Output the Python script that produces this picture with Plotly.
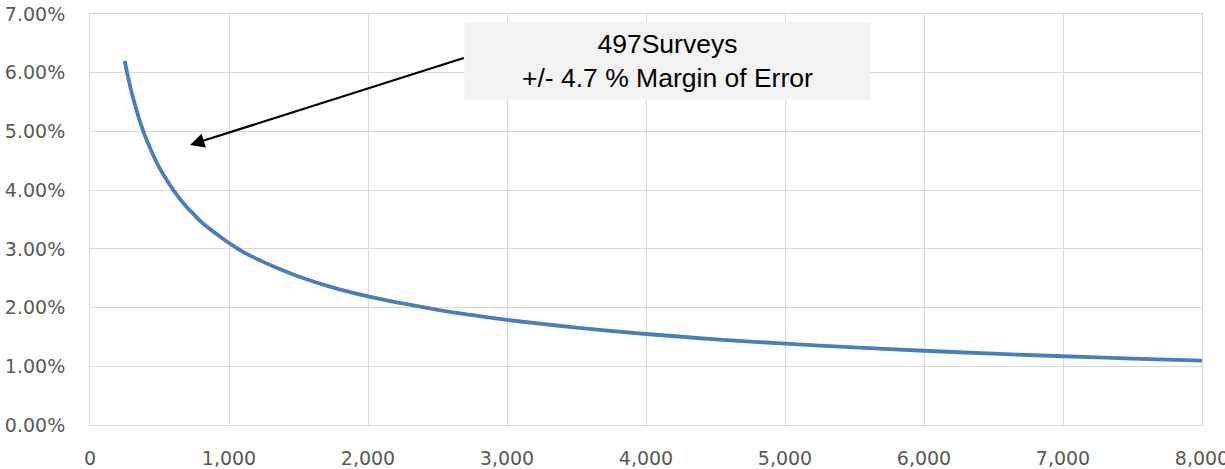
import plotly.graph_objects as go

# Sample size (number of surveys) and margin of error
sample_size = [250, 275, 300, 325, 350, 375, 400, 450, 500, 550, 600, 650, 700, 750, 800, 900,
               1000, 1100, 1200, 1350, 1500, 1750, 2000, 2250, 2500, 2750, 3000, 3500, 4000,
               4500, 5000, 5500, 6000, 6500, 7000, 7500, 8000]
margin_error = [0.0620, 0.0591, 0.0566, 0.0544, 0.0524, 0.0506, 0.0490, 0.0462, 0.0438, 0.0418,
                0.0400, 0.0384, 0.0370, 0.0358, 0.0346, 0.0327, 0.0310, 0.0295, 0.0283, 0.0267,
                0.0253, 0.0234, 0.0219, 0.0207, 0.0196, 0.0187, 0.0179, 0.0166, 0.0155, 0.0146,
                0.01386, 0.01321, 0.01265, 0.01215, 0.01171, 0.01132, 0.01096]

note_lines = ["497Surveys", "+/- 4.7 % Margin of Error"]
arrow_point = (720, 0.0477)
arrow_tail = (2700, 0.0626)

fig = go.Figure()
fig.add_trace(go.Scatter(
    x=sample_size, y=margin_error, mode="lines",
    line=dict(color="#4a7ebb", width=3.8, shape="spline", smoothing=1.2),
    hoverinfo="skip", showlegend=False,
))

grid = "#d9d9d9"
tickfont = dict(family="DejaVu Sans", size=19, color="#595959")

fig.update_layout(
    width=1225, height=469,
    margin=dict(l=90, r=23, t=14, b=44, autoexpand=False),
    paper_bgcolor="white", plot_bgcolor="white",
    xaxis=dict(range=[0, 8000], dtick=1000, tick0=0, tickformat=",",
               showgrid=True, gridcolor=grid, gridwidth=1,
               zeroline=False, showline=True, mirror=True, linecolor=grid, linewidth=1,
               ticks="outside", ticklen=16, tickcolor="rgba(0,0,0,0)",
               tickfont=tickfont, fixedrange=True, automargin=False,
               ticklabeloverflow="allow"),
    yaxis=dict(range=[0, 0.07], dtick=0.01, tick0=0, tickformat=".2%",
               showgrid=True, gridcolor=grid, gridwidth=1,
               zeroline=False, showline=True, mirror=True, linecolor=grid, linewidth=1,
               ticks="outside", ticklen=20, tickcolor="rgba(0,0,0,0)",
               tickfont=tickfont, fixedrange=True, automargin=False,
               ticklabeloverflow="allow"),
)

# Arrow
fig.add_annotation(
    x=arrow_point[0], y=arrow_point[1], xref="x", yref="y",
    ax=arrow_tail[0], ay=arrow_tail[1], axref="x", ayref="y",
    text="", showarrow=True, arrowhead=2, arrowsize=1.3, arrowwidth=2.2, arrowcolor="black",
)

# Text box
fig.add_annotation(
    x=0.5195, y=0.8846, xref="paper", yref="paper",
    xanchor="center", yanchor="middle",
    text="<br>".join(note_lines), showarrow=False,
    font=dict(family="Liberation Sans, Arial", size=26.5, color="black"),
    bgcolor="#f2f2f2", borderpad=0, width=405, height=76, align="center",
)

fig.write_html("out.html", config={"displayModeBar": False},
               post_script="document.body.style.margin='0';document.body.style.overflow='hidden';")
